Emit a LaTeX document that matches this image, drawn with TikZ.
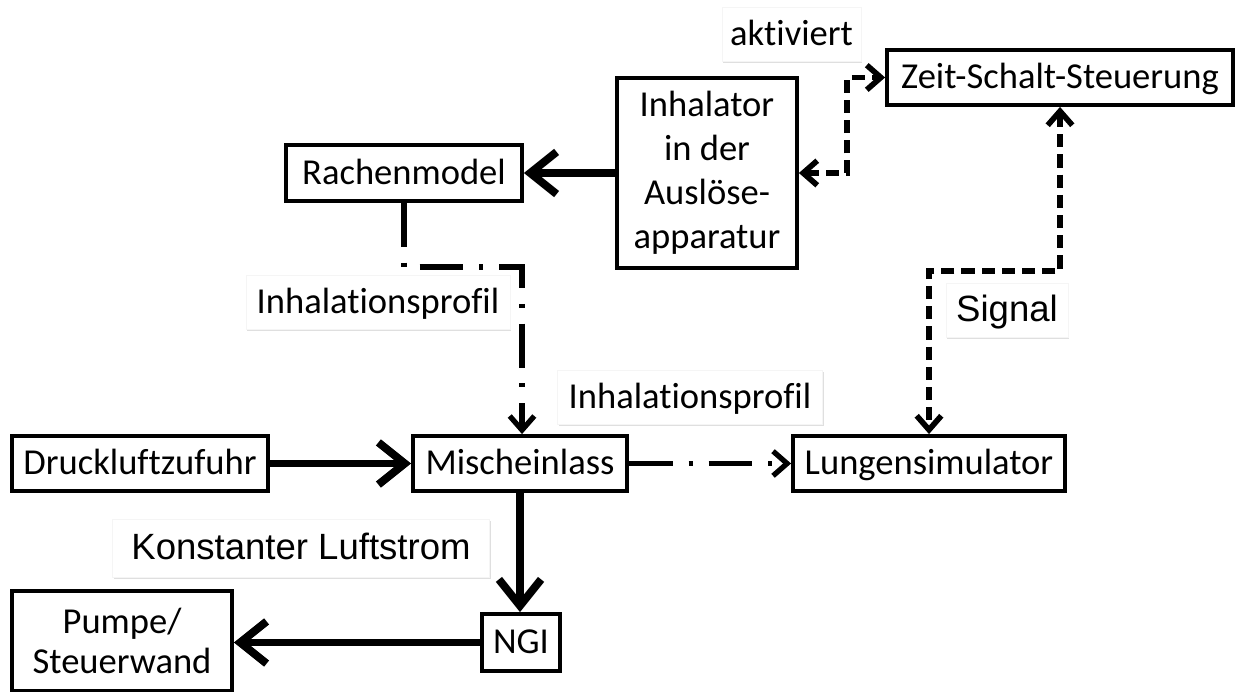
\documentclass[tikz,border=0pt]{standalone}
\usepackage{fontspec}
\setmainfont{Carlito}[Ligatures=NoCommon]
\newfontfamily\arialfont{Liberation Sans}
\usepackage{tikz}
\usetikzlibrary{arrows.meta, shadows}

\begin{document}
\begin{tikzpicture}[
  x=0.02cm, y=-0.02cm,
  font=\fontsize{20.8}{25}\selectfont,
  block/.style={draw, line width=2.2pt, fill=white, inner sep=0pt, minimum height=1.1cm, align=center,
    drop shadow={opacity=0.3, shadow xshift=0.6pt, shadow yshift=-1pt}},
  oneline/.style={text height=16pt, text depth=3pt},
  lab/.style={oneline, draw=black!4, line width=0.4pt, fill=white, inner sep=0pt, minimum height=1.08cm,
    drop shadow={opacity=0.25, shadow xshift=0.8pt, shadow yshift=-1pt}},
  arr/.style={-{Straight Barb[length=15pt,width=24pt]}, line width=4.5pt},
  sig/.style={{Straight Barb[length=8pt,width=14pt]}-{Straight Barb[length=8pt,width=14pt]},
    line width=3.2pt, dash pattern=on 7.5pt off 4pt},
  flow/.style={-{Straight Barb[length=8pt,width=14pt]}, line width=3pt,
    dash pattern=on 25pt off 9pt on 2.3pt off 9pt}
]
\useasboundingbox (0,0) rectangle (1238,692);

% blocks
\node[block, oneline, minimum width=6.92cm] (zeit) at (1060,77.5) {Zeit-Schalt-Steuerung};
\node[block, minimum width=3.6cm, minimum height=3.8cm] (inhalator) at (707,173) {Inhalator\\in der\\Auslöse-\\apparatur};
\node[block, oneline, minimum width=4.72cm, minimum height=1.12cm] (rachen) at (404,173) {Rachenmodel};
\node[block, oneline, minimum width=5.12cm] (druck) at (140,463.5) {Druckluftzufuhr};
\node[block, oneline, minimum width=4.28cm] (misch) at (520,463.5) {Mischeinlass};
\node[block, oneline, minimum width=5.44cm] (lunge) at (929,463.5) {Lungensimulator};
\node[block, oneline, minimum width=1.56cm, minimum height=1.14cm] (ngi) at (521,642.5) {NGI};
\node[block, minimum width=4.4cm, minimum height=2cm, font=\fontsize{20.8}{23}\selectfont] (pumpe) at (122,641) {Pumpe/\\Steuerwand};

% labels
\node[lab, minimum width=2.78cm] (aktiv) at (791.5,34) {aktiviert};
\node[lab, minimum width=5.28cm] (profil1) at (378,302) {Inhalationsprofil};
\node[lab, minimum width=5.3cm] (profil2) at (690,397) {Inhalationsprofil};
\node[lab, minimum width=2.44cm, font=\arialfont\fontsize{20.8}{25}\selectfont] (signal) at (1007,310) {Signal};
\node[lab, minimum width=7.54cm, minimum height=1.16cm, font=\arialfont\fontsize{20.8}{25}\selectfont] (konst) at (301,548) {Konstanter Luftstrom};

% bends
\coordinate (k1) at (522,267);
\coordinate (k2) at (847,125);
\coordinate (k3) at (990,271);

% air flow
\draw[arr] (inhalator) -- (rachen);
\draw[arr] (druck) -- (misch);
\draw[arr] (misch.south) -- (misch.south |- ngi.north);
\draw[arr] (ngi.west) -- (ngi.west -| pumpe.east);

% profiles
\draw[flow] (misch) -- (lunge);
\draw[flow] (rachen.south) |- (k1) -- (k1 |- misch.north);

% control signals
\draw[sig] (inhalator.east) -| (k2) |- (zeit.west);
\draw[sig] (zeit.south) |- (k3) -| (lunge.north);
\end{tikzpicture}
\end{document}
